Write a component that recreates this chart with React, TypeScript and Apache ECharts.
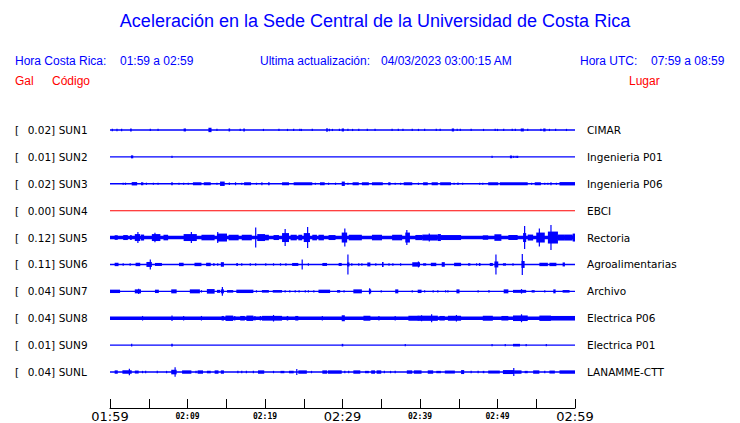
import React, { useEffect, useRef } from "react";
import * as echarts from "echarts";

// ---------- header texts ----------
const TITLE = "Aceleración en la Sede Central de la Universidad de Costa Rica";
const HORA_CR = "01:59 a 02:59";
const ACTUALIZACION = "04/03/2023 03:00:15 AM";
const HORA_UTC = "07:59 a 08:59";

// ---------- stations ----------
const CODES = ["SUN1", "SUN2", "SUN3", "SUN4", "SUN5", "SUN6", "SUN7", "SUN8", "SUN9", "SUNL"];
const PEAKS = [0.02, 0.01, 0.02, 0.0, 0.12, 0.11, 0.04, 0.04, 0.01, 0.04]; // Gal
const PLACES = ["CIMAR", "Ingenieria P01", "Ingenieria P06", "EBCI", "Rectoria", "Agroalimentarias", "Archivo", "Electrica P06", "Electrica P01", "LANAMME-CTT"];
// continuous background noise amplitude of each trace (Gal)
const NOISE = [0.007, 0.007, 0.007, 0.005, 0.018, 0.007, 0.007, 0.017, 0.007, 0.007];

// time axis: minutes after 01:59
const TIME_LABELS = ["01:59", "02:09", "02:19", "02:29", "02:39", "02:49", "02:59"];

// events per trace: [start minute, end minute, half amplitude (Gal)]
const SUN1 = [[0.3,0.3,0.012],[0.9,0.9,0.012],[1.5,1.5,0.012],[2.6,2.8,0.015],[5.2,5.2,0.011],[6.2,6.2,0.011],[9.5,9.8,0.015],[12.7,13.1,0.022],[13.8,13.8,0.011],[15.3,15.5,0.015],[16.8,16.8,0.011],[17.2,17.4,0.015],[19.8,19.8,0.011],[21.8,21.8,0.011],[22.9,22.9,0.011],[23.7,23.7,0.011],[24.5,24.5,0.011],[24.7,24.7,0.011],[26.1,26.1,0.011],[27.9,28.1,0.018],[28.3,28.3,0.012],[28.7,28.7,0.011],[29.6,29.6,0.011],[29.9,30.2,0.015],[30.7,30.7,0.011],[31.3,31.3,0.011],[32.1,32.1,0.011],[33.2,33.2,0.011],[34.2,34.2,0.011],[36.4,36.4,0.011],[37.2,37.2,0.011],[37.8,37.8,0.011],[39.0,39.0,0.011],[39.8,39.8,0.011],[40.6,40.6,0.011],[42.1,42.1,0.011],[42.6,42.6,0.011],[44.1,44.4,0.015],[44.8,44.8,0.011],[45.2,45.2,0.011],[46.6,46.6,0.011],[48.2,48.2,0.011],[49.7,49.7,0.011],[50.0,50.0,0.011],[50.8,50.8,0.011],[51.9,51.9,0.011],[52.3,52.3,0.011],[53.0,53.4,0.015],[53.9,53.9,0.011],[55.6,55.6,0.011],[55.9,56.2,0.015],[56.7,56.7,0.011],[57.5,57.5,0.011],[58.9,58.9,0.011]];
const SUN2 = [[2.7,3.0,0.015],[8.0,8.0,0.012],[49.3,49.3,0.011],[51.6,51.9,0.013],[52.1,52.1,0.012],[52.4,52.4,0.012],[52.6,52.6,0.012]];
const SUN3 = [[1.7,1.7,0.011],[2.0,2.0,0.011],[2.8,3.5,0.017],[4.0,4.3,0.015],[4.7,4.7,0.011],[5.6,5.6,0.011],[6.2,6.2,0.011],[7.9,8.1,0.015],[8.9,8.9,0.011],[9.5,9.5,0.011],[10.1,10.1,0.011],[10.7,11.8,0.015],[12.1,13.0,0.015],[13.8,13.8,0.011],[14.2,14.8,0.022],[15.4,15.4,0.012],[16.2,16.2,0.015],[17.0,17.0,0.011],[17.3,18.2,0.015],[18.9,18.9,0.011],[19.6,19.6,0.015],[20.4,20.6,0.015],[22.2,23.1,0.015],[23.7,26.1,0.015],[26.5,26.5,0.011],[27.1,27.7,0.015],[28.2,28.2,0.011],[29.1,29.1,0.011],[29.9,30.3,0.022],[30.7,30.7,0.011],[31.3,32.1,0.015],[32.5,33.4,0.015],[33.8,35.2,0.015],[35.9,36.2,0.015],[36.8,36.8,0.011],[37.5,37.5,0.011],[37.9,39.0,0.015],[39.8,39.8,0.011],[40.4,41.0,0.015],[41.5,42.3,0.015],[42.6,44.0,0.015],[44.4,44.4,0.011],[44.9,44.9,0.012],[45.5,45.5,0.011],[47.7,47.7,0.011],[48.1,48.1,0.011],[48.8,50.1,0.015],[50.3,53.9,0.015],[54.4,54.4,0.011],[54.8,55.6,0.015],[56.1,56.1,0.011],[56.5,56.5,0.011],[56.9,56.9,0.015],[57.6,57.6,0.011],[58.0,60.0,0.017]];
const SUN4: number[][] = [];
const SUN5 = [[0.6,1.0,0.023],[1.7,2.3,0.025],[2.6,2.8,0.025],[3.2,3.9,0.035],[3.6,3.6,0.055],[4.0,4.4,0.03],[5.4,6.5,0.035],[5.8,5.8,0.048],[6.9,7.5,0.028],[9.5,11.2,0.035],[10.5,10.5,0.055],[11.8,13.5,0.028],[13.8,15.1,0.04],[13.9,13.9,0.055],[15.3,16.6,0.028],[17.0,18.3,0.028],[18.8,18.8,0.1],[19.0,20.0,0.035],[20.0,20.5,0.028],[21.1,21.8,0.025],[22.2,23.1,0.045],[22.6,22.6,0.085],[23.3,24.1,0.028],[24.3,24.8,0.028],[25.0,25.8,0.045],[25.5,25.5,0.105],[26.1,26.7,0.028],[26.9,27.6,0.028],[28.2,29.1,0.025],[29.9,30.6,0.05],[30.3,30.3,0.09],[30.8,32.5,0.028],[33.8,35.1,0.028],[36.4,37.7,0.028],[38.1,38.7,0.05],[38.3,38.3,0.075],[39.4,40.3,0.026],[40.3,42.3,0.03],[41.2,41.2,0.04],[42.3,42.7,0.035],[42.7,45.3,0.025],[48.1,48.8,0.022],[49.6,50.5,0.033],[51.4,52.6,0.025],[53.3,53.7,0.045],[53.5,53.5,0.115],[53.9,54.6,0.03],[55.0,56.1,0.05],[55.4,55.4,0.09],[56.5,57.8,0.06],[56.9,56.9,0.125],[57.8,58.7,0.03],[58.7,59.7,0.03],[59.7,60.0,0.04]];
const SUN6 = [[0.6,1.1,0.017],[1.7,1.7,0.012],[2.6,2.6,0.012],[3.3,3.9,0.017],[4.7,5.4,0.025],[5.2,5.2,0.05],[5.8,6.7,0.015],[8.9,9.5,0.017],[10.9,11.8,0.017],[12.4,13.0,0.017],[13.3,13.5,0.012],[13.9,13.9,0.012],[14.3,14.7,0.023],[16.3,16.5,0.015],[17.0,17.0,0.012],[18.1,18.1,0.012],[18.8,18.8,0.012],[20.1,20.1,0.012],[21.1,21.1,0.012],[22.0,22.0,0.012],[22.7,22.7,0.012],[23.5,24.3,0.015],[24.8,24.8,0.05],[25.6,25.6,0.012],[27.4,28.0,0.015],[29.5,29.9,0.015],[30.6,30.9,0.02],[30.7,30.7,0.1],[31.2,31.2,0.012],[32.1,32.1,0.012],[32.5,32.5,0.012],[33.2,33.6,0.02],[34.3,34.3,0.012],[35.1,35.3,0.025],[36.0,36.0,0.012],[36.5,36.5,0.012],[37.5,37.5,0.012],[39.0,40.0,0.022],[39.8,39.8,0.03],[40.4,40.8,0.012],[41.4,42.1,0.017],[42.8,43.2,0.023],[44.4,45.3,0.017],[46.2,46.5,0.012],[47.3,47.3,0.012],[47.6,47.8,0.015],[49.0,49.4,0.015],[49.6,50.1,0.03],[49.8,49.8,0.1],[50.7,51.1,0.012],[52.0,52.0,0.012],[53.1,53.5,0.035],[53.2,53.2,0.105],[55.4,56.5,0.017],[56.7,57.6,0.017],[58.4,58.7,0.02]];
const SUN7 = [[0.0,1.3,0.017],[3.2,4.0,0.02],[3.7,3.7,0.027],[5.8,6.3,0.017],[7.9,8.6,0.02],[10.3,11.6,0.02],[11.8,11.8,0.012],[12.5,13.5,0.023],[13.8,14.2,0.015],[14.3,14.7,0.02],[14.5,14.5,0.043],[15.1,15.9,0.013],[16.3,18.5,0.017],[18.9,18.9,0.012],[19.6,20.5,0.013],[21.0,22.2,0.013],[22.6,22.6,0.011],[23.2,23.2,0.011],[23.9,23.9,0.011],[24.4,24.4,0.011],[25.2,25.2,0.011],[25.6,25.6,0.011],[26.3,26.3,0.011],[26.9,28.4,0.017],[29.3,29.7,0.013],[30.2,30.2,0.011],[31.4,32.5,0.02],[33.4,33.7,0.02],[33.5,33.5,0.03],[35.0,35.0,0.011],[36.8,37.2,0.02],[39.0,39.0,0.012],[39.7,40.2,0.017],[40.6,40.6,0.011],[41.7,41.7,0.011],[42.3,42.3,0.011],[43.3,43.3,0.011],[43.6,43.6,0.011],[44.7,45.1,0.02],[47.5,47.5,0.011],[48.8,49.0,0.012],[50.8,51.4,0.02],[52.0,53.7,0.015],[53.1,53.1,0.023],[54.4,54.8,0.012],[56.1,56.1,0.011],[57.2,57.5,0.02],[58.4,59.3,0.013]];
const SUN8 = [[4.2,4.2,0.023],[8.0,8.0,0.027],[9.5,9.5,0.023],[11.8,11.8,0.023],[14.4,14.7,0.023],[14.9,15.9,0.027],[16.1,16.1,0.023],[16.8,17.4,0.023],[17.6,18.5,0.027],[18.7,18.7,0.023],[19.4,19.4,0.023],[19.6,22.2,0.024],[21.1,21.1,0.033],[22.8,23.0,0.023],[23.9,24.3,0.023],[27.4,27.4,0.023],[29.9,30.3,0.03],[32.7,33.6,0.025],[34.7,34.7,0.023],[36.8,36.8,0.023],[38.5,39.8,0.025],[40.2,40.2,0.03],[39.7,42.3,0.026],[41.5,41.5,0.04],[42.5,43.2,0.023],[43.6,45.3,0.025],[44.7,44.7,0.033],[48.1,49.4,0.025],[50.5,51.4,0.023],[52.0,53.9,0.028],[53.1,53.1,0.04],[55.4,56.9,0.027],[56.9,60.0,0.023]];
const SUN9 = [[2.8,2.8,0.013],[7.9,8.1,0.013],[29.9,30.1,0.013],[38.1,38.1,0.011],[49.3,49.3,0.011],[51.0,51.0,0.011],[52.0,52.9,0.013],[53.7,53.7,0.011],[56.3,56.3,0.011]];
const SUNL = [[0.6,1.0,0.017],[1.6,2.8,0.017],[2.5,2.5,0.033],[3.2,3.7,0.015],[4.2,4.2,0.012],[4.6,4.6,0.012],[6.1,6.1,0.012],[7.3,7.3,0.012],[7.9,8.6,0.023],[8.4,8.4,0.047],[9.3,10.5,0.017],[11.1,11.1,0.012],[11.3,12.0,0.017],[12.5,13.0,0.013],[13.5,14.0,0.017],[14.3,14.7,0.017],[16.5,16.5,0.012],[17.0,17.0,0.012],[17.6,17.6,0.012],[18.5,18.5,0.012],[19.1,19.9,0.017],[21.1,21.1,0.012],[22.0,22.5,0.012],[23.1,23.7,0.013],[24.1,24.1,0.03],[24.3,25.4,0.017],[26.0,26.0,0.012],[27.4,28.0,0.017],[28.1,29.9,0.017],[30.3,30.3,0.012],[30.8,30.8,0.012],[31.4,32.3,0.017],[32.9,33.4,0.012],[33.7,34.2,0.017],[34.4,35.0,0.017],[35.4,35.4,0.012],[36.2,36.2,0.012],[36.8,36.8,0.012],[38.3,39.0,0.017],[39.2,40.2,0.017],[41.0,41.7,0.017],[42.1,42.7,0.012],[43.2,44.5,0.015],[45.3,45.7,0.02],[46.6,46.6,0.012],[47.5,47.5,0.012],[48.1,48.3,0.012],[48.8,50.3,0.015],[50.7,52.2,0.02],[52.1,52.1,0.04],[52.2,53.1,0.017],[53.5,53.9,0.012],[54.6,55.4,0.017],[56.1,56.1,0.012],[56.7,57.4,0.015],[58.0,60.0,0.017]];
const EVENTS = [SUN1, SUN2, SUN3, SUN4, SUN5, SUN6, SUN7, SUN8, SUN9, SUNL];

const SPACING = 0.27; // Gal between trace baselines
const BLUE = "#0000ff";
const RED = "#ff0000";

export default function App() {
  const ref = useRef<HTMLDivElement>(null);
  useEffect(() => {
    document.body.style.margin = "0";
    if (!ref.current) return;
    const chart = echarts.init(ref.current, undefined, { renderer: "svg" });

    const data: number[][] = [];
    CODES.forEach((_, i) => {
      data.push([i, 0, 60, NOISE[i]]);
      EVENTS[i].forEach((e) => data.push([i, e[0], e[1], e[2]]));
    });

    const renderItem = (params: any, api: any) => {
      const i = api.value(0);
      const t0 = api.value(1);
      const t1 = api.value(2);
      const a = api.value(3);
      const base = -i * SPACING;
      const p0 = api.coord([t0, base + a]);
      const p1 = api.coord([t1, base - a]);
      let x = p0[0];
      let w = p1[0] - p0[0];
      if (w < 1.2) {
        x = (p0[0] + p1[0]) / 2 - 0.6;
        w = 1.2;
      }
      const h = Math.max(p1[1] - p0[1], 1);
      return {
        type: "rect",
        shape: { x, y: p0[1], width: w, height: h },
        style: { fill: PEAKS[i] === 0 ? RED : BLUE },
      };
    };

    const hdr = (text: string, x: number, y: number, fill: string, size = 12, align = "left") => ({
      type: "text",
      x,
      y,
      silent: true,
      style: {
        text,
        fill,
        fontSize: size,
        fontFamily: "Liberation Sans",
        align,
        verticalAlign: "middle",
      },
    });

    const option: any = {
      animation: false,
      backgroundColor: "#ffffff",
      graphic: [
        hdr(TITLE, 375, 21, BLUE, 18, "center"),
        hdr("Hora Costa Rica:", 15, 61, BLUE),
        hdr(HORA_CR, 120, 61, BLUE),
        hdr("Ultima actualización:", 260, 61, BLUE),
        hdr(ACTUALIZACION, 381, 61, BLUE),
        hdr("Hora UTC:", 580, 61, BLUE),
        hdr(HORA_UTC, 651, 61, BLUE),
        hdr("Gal", 15, 81, RED),
        hdr("Código", 52, 81, RED),
        hdr("Lugar", 629, 81, RED),
      ],
      grid: { left: 110, width: 465, top: 116.5, height: 270 },
      xAxis: {
        type: "value",
        min: 0,
        max: 60,
        interval: 5,
        offset: 22.5,
        splitLine: { show: false },
        axisLine: { show: true, onZero: false, lineStyle: { color: "#000", width: 1 } },
        axisTick: { show: true, inside: true, length: 9, lineStyle: { color: "#000" } },
        axisLabel: {
          margin: 2,
          showMinLabel: true,
          showMaxLabel: true,
          hideOverlap: false,
          formatter: (v: number) => {
            if (v % 10 !== 0) return "";
            const s = TIME_LABELS[v / 10];
            return v % 30 === 0 ? `{big|${s}}` : `{small|${s}}`;
          },
          rich: {
            big: { fontSize: 13, fontFamily: "DejaVu Sans", color: "#000" },
            small: { fontSize: 8, fontFamily: "DejaVu Sans Mono", fontWeight: "bold", color: "#000", padding: [2, 0, 0, 0] },
          },
        },
      },
      yAxis: [
        {
          type: "value",
          min: -9.5 * SPACING,
          max: 0.5 * SPACING,
          show: false,
        },
        {
          type: "category",
          data: CODES,
          inverse: true,
          position: "left",
          axisLine: { show: false },
          axisTick: { show: false },
          splitLine: { show: false },
          axisLabel: {
            align: "left",
            margin: 95,
            formatter: (code: string, idx: number) => `{b|[}{v|${PEAKS[idx].toFixed(2)}]}{c|${code}}`,
            rich: {
              b: { width: 12.7, fontSize: 10.5, fontFamily: "DejaVu Sans", color: "#000" },
              v: { width: 31, fontSize: 10.5, fontFamily: "DejaVu Sans", color: "#000" },
              c: { fontSize: 10.5, fontFamily: "DejaVu Sans", color: "#000" },
            },
          },
        },
        {
          type: "category",
          data: PLACES,
          inverse: true,
          position: "right",
          axisLine: { show: false },
          axisTick: { show: false },
          splitLine: { show: false },
          axisLabel: {
            align: "left",
            margin: 12,
            fontSize: 10.5,
            fontFamily: "DejaVu Sans",
            color: "#000",
          },
        },
      ],
      series: [
        {
          type: "custom",
          coordinateSystem: "cartesian2d",
          xAxisIndex: 0,
          yAxisIndex: 0,
          silent: true,
          clip: false,
          encode: { x: [1, 2], y: 3 },
          renderItem,
          data,
        },
      ],
    };
    chart.setOption(option);
    return () => chart.dispose();
  }, []);
  return <div ref={ref} style={{ width: 740, height: 423 }} />;
}
